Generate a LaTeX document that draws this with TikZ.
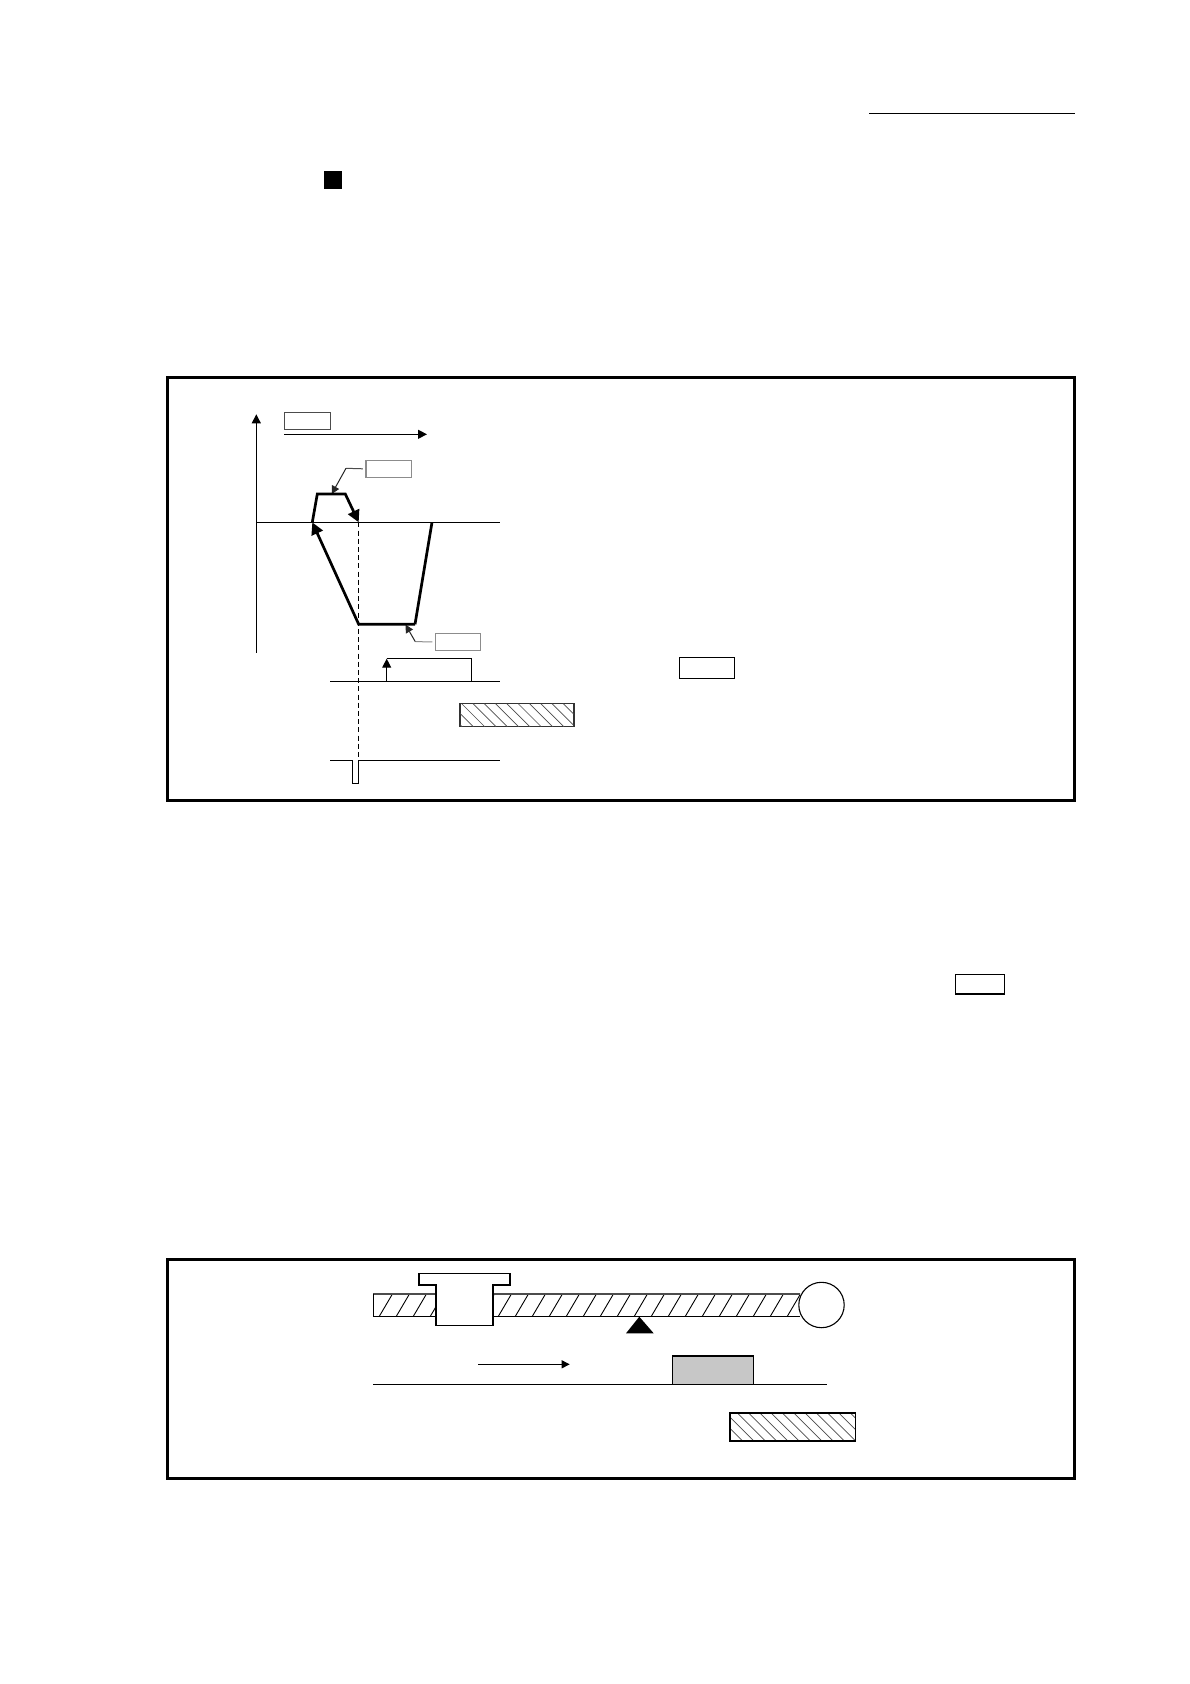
\documentclass[tikz,border=0pt]{standalone}
\usetikzlibrary{arrows.meta,shapes.geometric}
\tikzset{
  thin line/.style={line width=1.1pt,black},
  frame line/.style={line width=3pt,black,line join=miter},
  thick line/.style={line width=2.7pt,black,line join=miter},
  tip/.style={-{Triangle[length=#1pt,width=#1pt]}},
  lbl box/.style={draw=#1,line width=1.1pt,fill=white,inner sep=0pt,outer sep=0pt},
  hatch line/.style={line width=0.7pt,black!70},
}
\begin{document}
\begin{tikzpicture}[x=1pt,y=-1pt]
\useasboundingbox (0,0) rectangle (1190,1684);
\fill[white] (0,0) rectangle (1190,1684);

% header
\coordinate (hl) at (869,113.3); \coordinate (hr) at (1075,113.3);
\draw[thin line] (hl) -- (hr);
\node[fill=black,minimum width=18pt,minimum height=18pt,inner sep=0pt] (sq) at (333.4,179.8) {};

% frame 1
\node[draw,frame line,minimum width=907pt,minimum height=423pt,inner sep=0pt,outer sep=0pt] (frameA) at (621.2,588.8) {};

% axes
\coordinate (yb) at (256.3,652.7); \coordinate (yt) at (256.3,414.3);
\coordinate (xl) at (256.3,522.3); \coordinate (xr) at (500,522.3);
\draw[thin line,tip=9] (yb) -- (yt);
\draw[thin line] (xl) -- (xr);

% label boxes and direction arrow
\node[lbl box=black!70,minimum width=45.7pt,minimum height=17pt] (b1) at (307.2,420.8) {};
\coordinate (da) at (284.3,434.3); \coordinate (db) at (427,434.3);
\draw[thin line,tip=9] (da) -- (db);
\node[lbl box=black!45,minimum width=45.3pt,minimum height=17pt] (b2) at (388.6,468.8) {};
\node[lbl box=black!45,minimum width=45pt,minimum height=17pt] (b3) at (457.8,641.8) {};
\node[lbl box=black,minimum width=55.4pt,minimum height=21.4pt] (b4) at (707,668) {};
\node[lbl box=black,line width=1.5pt,minimum width=49pt,minimum height=19.7pt] (b5) at (980.2,984.2) {};

% leaders
\coordinate (l1a) at (346,468.3); \coordinate (l1b) at (331.7,494);
\draw[line width=1pt,black!70] ([xshift=-3pt]b2.west) -- (l1a);
\draw[line width=1pt,black!85,tip=8] (l1a) -- (l1b);
\coordinate (l2a) at (415.3,641.7); \coordinate (l2b) at (405.5,624.6);
\draw[line width=1pt,black!45] ([xshift=-3pt]b3.west) -- (l2a);
\draw[line width=1pt,black!85,tip=8] (l2a) -- (l2b);

% dashed
\coordinate (dt) at (358.7,522.3); \coordinate (dm) at (358.7,760.3);
\draw[line width=1.1pt,black,dash pattern=on 5pt off 3.2pt] (dt) -- (dm);

% profile
\coordinate (p0) at (312.3,522.3); \coordinate (p1) at (317.3,494);
\coordinate (p2) at (345.3,494); \coordinate (p3) at (358.7,522.3);
\coordinate (p4) at (358.7,624.3); \coordinate (p5) at (415,624.3); \coordinate (p6) at (432,522.3);
\draw[thick line,tip=12] (p0) -- (p1) -- (p2) -- (p3);
\draw[thick line,tip=12] (p5) -- (p4) -- (p0);
\draw[thick line] (p5) -- (p6);

% signal 1
\coordinate (s0) at (330,681.3); \coordinate (s1) at (386.7,681.3); \coordinate (s2) at (386.7,658.7);
\coordinate (s3) at (471.7,658.7); \coordinate (s4) at (471.7,681.3); \coordinate (s5) at (500,681.3);
\draw[thin line] (s0) -- (s5);
\draw[thin line] (s2) -- (s3) -- (s4);
\draw[thin line,tip=9] (s1) -- (s2);

% hatched box A
\node[draw=black!80,line width=1.5pt,minimum width=113.7pt,minimum height=23pt,inner sep=0pt,outer sep=0pt] (hA) at (516.9,715.2) {};
\begin{scope}
\clip (460,703.7) rectangle (573.7,726.7);
\foreach \i in {-2,...,10} \draw[hatch line] ({461.7+11.3*\i},703.7) -- ({484.7+11.3*\i},726.7);
\end{scope}

% signal 2
\coordinate (t0) at (330,760.3); \coordinate (t1) at (352.3,760.3); \coordinate (t2) at (352.3,783.3);
\coordinate (t3) at (358.7,783.3); \coordinate (t4) at (358.7,760.3); \coordinate (t5) at (500,760.3);
\draw[thin line] (t0) -- (t1) -- (t2) -- (t3) -- (t4) -- (t5);

% frame 2
\node[draw,frame line,minimum width=907pt,minimum height=218.6pt,inner sep=0pt,outer sep=0pt] (frameB) at (621.2,1369) {};

% screw
\begin{scope}
\clip (373.3,1293.7) rectangle (800,1316.3);
\foreach \i in {0,...,24} \draw[line width=0.9pt,black] ({379.3+17*\i},1316.3) -- ({392.6+17*\i},1293.7);
\end{scope}
\coordinate (sa) at (800,1293.7); \coordinate (sb) at (373.3,1293.7);
\coordinate (sc) at (373.3,1316.3); \coordinate (sd) at (800,1316.3);
\draw[line width=1.6pt,black!70] (sa) -- (sb);
\draw[thin line] (sb) -- (sc) -- (sd);

% motor
\node[circle,draw,thin line,fill=white,minimum size=45.4pt,inner sep=0pt,outer sep=0pt] (motor) at (821.5,1305) {};

% nut
\draw[line width=1.6pt,black,fill=white,line join=miter]
  (418.7,1273.3) -- (509.7,1273.3) -- (509.7,1285) -- (492.7,1285) -- (492.7,1325.3)
  -- (436,1325.3) -- (436,1285) -- (418.7,1285) -- cycle;

% support
\fill[black] (639.3,1316.7) -- (653.7,1333.3) -- (626,1333.3) -- cycle;

% arrow
\coordinate (aa) at (478.3,1364.3); \coordinate (ab) at (569.7,1364.3);
\draw[thin line,tip=8] (aa) -- (ab);

% baseline and block
\coordinate (ba) at (373.3,1384.3); \coordinate (bb) at (827,1384.3);
\draw[thin line] (ba) -- (bb);
\node[draw,line width=1.5pt,fill=black!22,minimum width=80.6pt,minimum height=28.3pt,inner sep=0pt,outer sep=0pt] (blk) at (713,1370.2) {};

% hatched box B
\begin{scope}
\clip (729.7,1412.7) rectangle (855.3,1441);
\foreach \i in {-3,...,10} \draw[hatch line] ({748.3+11.3*\i},1412.7) -- ({776.6+11.3*\i},1441);
\end{scope}
\node[draw,line width=1.6pt,minimum width=125.6pt,minimum height=28.3pt,inner sep=0pt,outer sep=0pt] (hB) at (792.5,1426.9) {};
\end{tikzpicture}
\end{document}
